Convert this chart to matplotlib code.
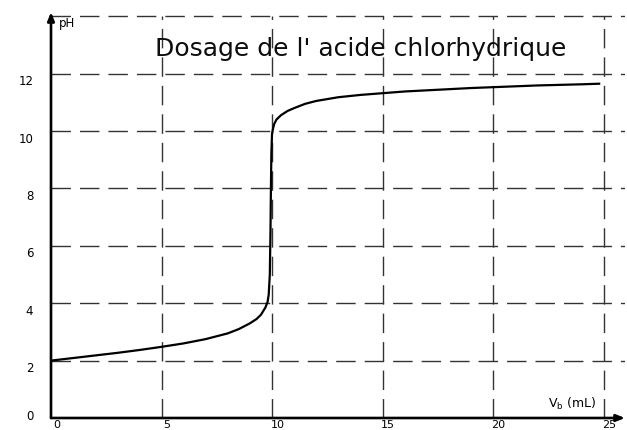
import matplotlib
matplotlib.use("Agg")
import matplotlib.pyplot as plt

vb = [0.0, 1.0, 2.0, 3.0, 4.0, 5.0, 6.0, 7.0, 7.5, 8.0, 8.5, 9.0, 9.3, 9.5,
      9.7, 9.8, 9.85, 9.9, 9.93, 9.95, 9.97, 10.0, 10.05, 10.1, 10.2, 10.4,
      10.7, 11.0, 11.5, 12.0, 13.0, 14.0, 15.0, 16.0, 17.0, 18.0, 19.0, 20.0,
      21.0, 22.0, 23.0, 24.0, 24.8]
ph = [2.0, 2.09, 2.18, 2.27, 2.37, 2.48, 2.6, 2.75, 2.85, 2.95, 3.1, 3.3, 3.45,
      3.6, 3.85, 4.05, 4.3, 5.0, 6.5, 8.0, 9.2, 9.9, 10.1, 10.25, 10.4, 10.55,
      10.7, 10.8, 10.95, 11.05, 11.18, 11.26, 11.32, 11.38, 11.42, 11.46,
      11.5, 11.53, 11.56, 11.59, 11.61, 11.63, 11.65]

x_ticks = [0, 5, 10, 15, 20, 25]
y_ticks = [0, 2, 4, 6, 8, 10, 12]
grid_x = [5, 10, 15, 20, 25]
grid_y = [2, 4, 6, 8, 10, 12, 14]

XMAX, YMAX = 25.97, 14.15

fig = plt.figure(figsize=(6.27, 4.30), dpi=100)
ax = fig.add_axes([51 / 627, 12 / 430, 574 / 627, 406 / 430])
ax.set_xlim(0, XMAX)
ax.set_ylim(0, YMAX)
ax.axis("off")

grid_kw = dict(color="0.2", lw=1.0, dashes=(14, 6.5), zorder=1)
for gx in grid_x:
    ax.plot([gx, gx], [0, 14], **grid_kw)
for gy in grid_y:
    ax.plot([0, XMAX], [gy, gy], **grid_kw)

ax.plot(vb, ph, color="black", lw=1.6, zorder=3)

# axes drawn as arrows
arrow = dict(arrowstyle="-|>,head_length=0.5,head_width=0.2", color="black",
             lw=1.9, shrinkA=0, shrinkB=0)
ax.annotate("", xy=(XMAX, 0), xytext=(0, 0), arrowprops=arrow,
            annotation_clip=False)
ax.annotate("", xy=(0, YMAX), xytext=(0, 0), arrowprops=arrow,
            annotation_clip=False)

for t in x_ticks:
    ax.text(t + 0.25, -0.07, str(t), ha="center", va="top", fontsize=8,
            clip_on=False)
for t in y_ticks:
    ax.text(-0.8, max(t - 0.28, 0.05), str(t), ha="right", va="center",
            fontsize=8.5, clip_on=False)

ax.text(0.35, 13.75, "pH", fontsize=8.5, ha="left", va="center")
ax.text(23.6, 0.5, "V$_\\mathregular{b}$ (mL)", fontsize=9, ha="center",
        va="center")
ax.text(14.0, 12.85, "Dosage de l' acide chlorhydrique", fontsize=18,
        ha="center", va="center", color="0.05")

fig.savefig("out.png", dpi=100)
plt.close(fig)
